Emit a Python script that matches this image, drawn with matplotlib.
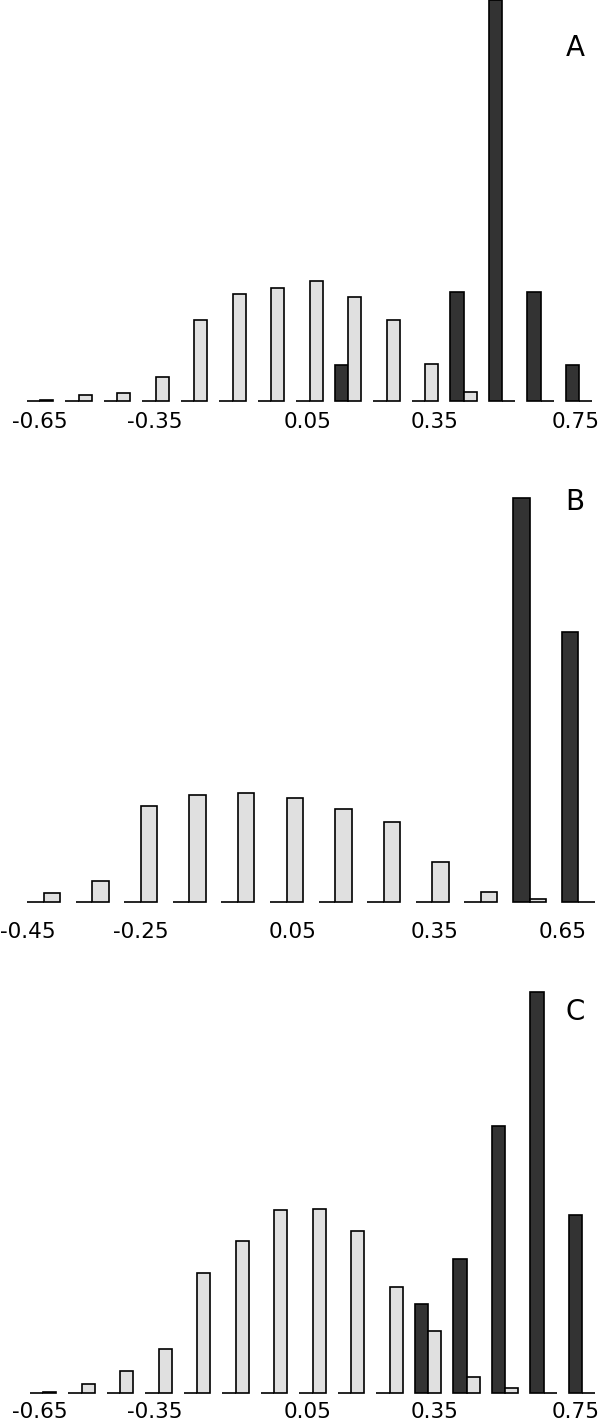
import numpy as np
import matplotlib
matplotlib.use('Agg')
import matplotlib.pyplot as plt

# bin centres
bins_a = [-0.65, -0.55, -0.45, -0.35, -0.25, -0.15, -0.05, 0.05,
          0.15, 0.25, 0.35, 0.45, 0.55, 0.65, 0.75]
bins_b = [-0.45, -0.35, -0.25, -0.15, -0.05, 0.05,
          0.15, 0.25, 0.35, 0.45, 0.55, 0.65]
bins_c = bins_a

# dark / light bar heights
dark_a = [0, 0, 0, 0, 0, 0, 0, 0, 36, 0, 0, 109, 402, 109, 36]
light_a = [1, 6, 8, 24, 81, 107, 113, 120, 104, 81, 37, 9, 0, 0, 0]

dark_b = [0, 0, 0, 0, 0, 0, 0, 0, 0, 0, 404, 270]
light_b = [9, 21, 96, 107, 109, 104, 93, 80, 40, 10, 3, 0]

dark_c = [0, 0, 0, 0, 0, 0, 0, 0, 0, 0, 89, 134, 267, 401, 178]
light_c = [1, 9, 22, 44, 120, 152, 183, 184, 162, 106, 62, 16, 5, 0, 0]

ticks_a = ['-0.65', '-0.35', '0.05', '0.35', '0.75']
ticks_b = ['-0.45', '-0.25', '0.05', '0.35', '0.65']
ticks_c = ticks_a

DARK = '#333333'
LIGHT = '#e0e0e0'
W = 0.34

fig = plt.figure(figsize=(6, 14.2), dpi=100)


def panel(rect, dark, light, xlim, tick_pos, tick_lab, pad, letter, letter_y):
    ax = fig.add_axes(rect)
    x = np.arange(len(dark))
    ax.bar(x - W / 2, dark, W, color=DARK, edgecolor='black', linewidth=1.2)
    ax.bar(x + W / 2, light, W, color=LIGHT, edgecolor='black', linewidth=1.2)
    ax.set_xlim(*xlim)
    ax.set_ylim(0, max(max(dark), max(light)))
    ax.set_xticks(tick_pos)
    ax.set_xticklabels(tick_lab, fontsize=15.5)
    ax.tick_params(axis='x', length=0, pad=pad)
    ax.set_yticks([])
    for s in ax.spines.values():
        s.set_visible(False)
    for b in ax.patches:
        b.set_clip_on(False)
    fig.text(575 / 600, letter_y, letter, fontsize=20, ha='center', va='center')
    return ax


panel([0, 1 - 401 / 1420, 1, 401 / 1420], dark_a, light_a,
      (-40 / 38.5, 560 / 38.5), [0, 2.99, 6.94, 10.26, 13.92], ticks_a, 8,
      'A', 1 - 48 / 1420)
panel([0, 1 - 902 / 1420, 1, 404 / 1420], dark_b, light_b,
      (-43.5 / 48.6, 556.5 / 48.6), [-0.32, 2.0, 5.13, 8.05, 10.69], ticks_b, 14.5,
      'B', 1 - 502 / 1420)
panel([0, 1 - 1393 / 1420, 1, 401 / 1420], dark_c, light_c,
      (-43 / 38.5, 557 / 38.5), [-0.08, 2.91, 6.86, 10.18, 13.84], ticks_c, 6.5,
      'C', 1 - 1012 / 1420)

fig.savefig('out.png', dpi=100)
